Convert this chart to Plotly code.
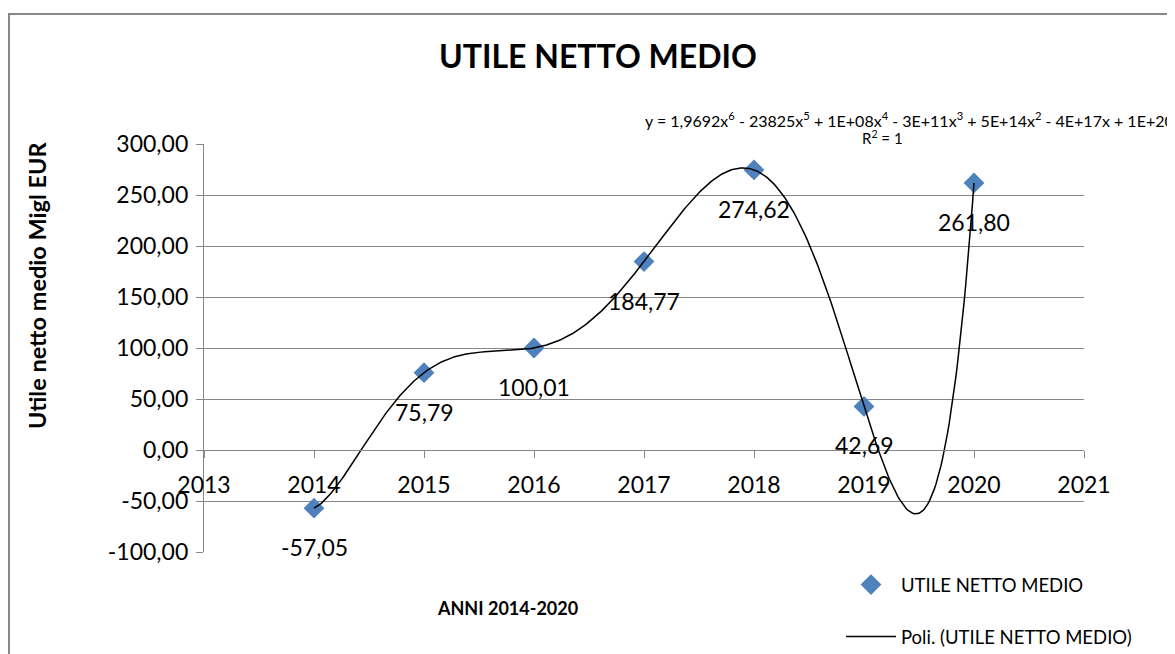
import numpy as np
import plotly.graph_objects as go

# dati
anni = [2014, 2015, 2016, 2017, 2018, 2019, 2020]
utile = [-57.05, 75.79, 100.01, 184.77, 274.62, 42.69, 261.80]
etichette = ['-57,05', '75,79', '100,01', '184,77', '274,62', '42,69', '261,80']

y_tick_val = [-100, -50, 0, 50, 100, 150, 200, 250, 300]
y_tick_txt = ['-100,00', '-50,00', '0,00', '50,00', '100,00', '150,00', '200,00', '250,00', '300,00']

serie_nome = 'UTILE NETTO MEDIO'
trend_nome = 'Poli. (UTILE NETTO MEDIO)'
equazione = ('y = 1,9692x<sup>6</sup> - 23825x<sup>5</sup> + 1E+08x<sup>4</sup> - 3E+11x<sup>3</sup>'
             ' + 5E+14x<sup>2</sup> - 4E+17x + 1E+20')

FONT = 'Lato'
GRIGIO = '#878787'

# la pagina ha un margine di 8px: si lavora in coordinate della finestra
W, H = 1167, 646
L, T, PW, PH = 196, 136, 880, 408


def px(xp):
    return (xp - 8 - L) / PW


def py(yp):
    return (T + PH - (yp - 8)) / PH


# linea di tendenza polinomiale (ordine 6), come in Excel
xc = np.array(anni) - 2017
coef = np.polyfit(xc, utile, 6)
xt = np.linspace(anni[0], anni[-1], 400)
yt = np.polyval(coef, xt - 2017)

fig = go.Figure()

fig.add_trace(go.Scatter(
    x=anni, y=utile, mode='markers', name=serie_nome,
    marker=dict(symbol='diamond', size=16, color='#4F81BD'),
    showlegend=True, legend='legend'))

fig.add_trace(go.Scatter(
    x=xt, y=yt, mode='lines', name=trend_nome,
    line=dict(color='black', width=1.5),
    showlegend=True, legend='legend2'))

# etichette dati sotto i punti
for a, u, t in zip(anni, utile, etichette):
    fig.add_annotation(x=a, y=u, text=t, showarrow=False, yshift=-39,
                       font=dict(family=FONT, size=23, color='black'))

fig.add_annotation(xref='paper', yref='paper', x=px(643), y=py(119),
                   xanchor='left', yanchor='middle', text=equazione, showarrow=False,
                   font=dict(family=FONT, size=16, color='black'))
fig.add_annotation(xref='paper', yref='paper', x=px(882), y=py(137),
                   xanchor='center', yanchor='middle', text='R<sup>2</sup> = 1', showarrow=False,
                   font=dict(family=FONT, size=15, color='black'))

fig.add_annotation(xref='paper', yref='paper', x=px(507), y=py(608),
                   xanchor='center', yanchor='middle', text='<b>ANNI 2014-2020</b>', showarrow=False,
                   font=dict(family=FONT, size=18, color='black'))

fig.add_annotation(xref='paper', yref='paper', x=px(37), y=py(286),
                   xanchor='center', yanchor='middle', text='<b>Utile netto medio Migl EUR</b>',
                   textangle=-90, showarrow=False,
                   font=dict(family=FONT, size=23.5, color='black'))

# bordo del grafico
fig.add_shape(type='rect', xref='paper', yref='paper',
              x0=px(9), x1=px(1240), y0=py(720), y1=py(14),
              line=dict(color=GRIGIO, width=2), layer='below')

fig.update_layout(
    width=W, height=H,
    margin=dict(l=L, r=W - L - PW, t=T, b=H - T - PH, autoexpand=False),
    paper_bgcolor='white', plot_bgcolor='white',
    separators=',.',
    title=dict(text='<b>UTILE NETTO MEDIO</b>', x=(598 - 8) / W, xanchor='center',
               y=1 - (57 - 8) / H, yanchor='middle',
               font=dict(family=FONT, size=32, color='black')),
    font=dict(family=FONT, color='black'),
    legend=dict(xref='container', yref='container',
                x=(841 - 8) / W, y=1 - (585 - 8) / H, xanchor='left', yanchor='middle',
                itemwidth=50, bgcolor='rgba(0,0,0,0)',
                font=dict(family=FONT, size=18.5, color='black')),
    legend2=dict(xref='container', yref='container',
                 x=(841 - 8) / W, y=1 - (637 - 8) / H, xanchor='left', yanchor='middle',
                 itemwidth=50, bgcolor='rgba(0,0,0,0)',
                 font=dict(family=FONT, size=18.5, color='black')),
    xaxis=dict(range=[2013, 2021], dtick=1, tick0=2013, showgrid=False, zeroline=False,
               showline=True, linecolor=GRIGIO, linewidth=1.3,
               ticks='outside', ticklen=7, tickcolor=GRIGIO, tickwidth=1.3,
               anchor='free', position=0.25, ticklabelstandoff=7,
               tickfont=dict(family=FONT, size=23, color='black')),
    yaxis=dict(range=[-100, 300], tickvals=y_tick_val, ticktext=y_tick_txt, showgrid=True,
               gridcolor=GRIGIO, gridwidth=1.3, zeroline=False,
               showline=True, linecolor=GRIGIO, linewidth=1.3,
               ticks='outside', ticklen=7, tickcolor=GRIGIO, tickwidth=1.3,
               ticklabelstandoff=3,
               tickfont=dict(family=FONT, size=23, color='black')),
)

fig.write_html('out.html')
